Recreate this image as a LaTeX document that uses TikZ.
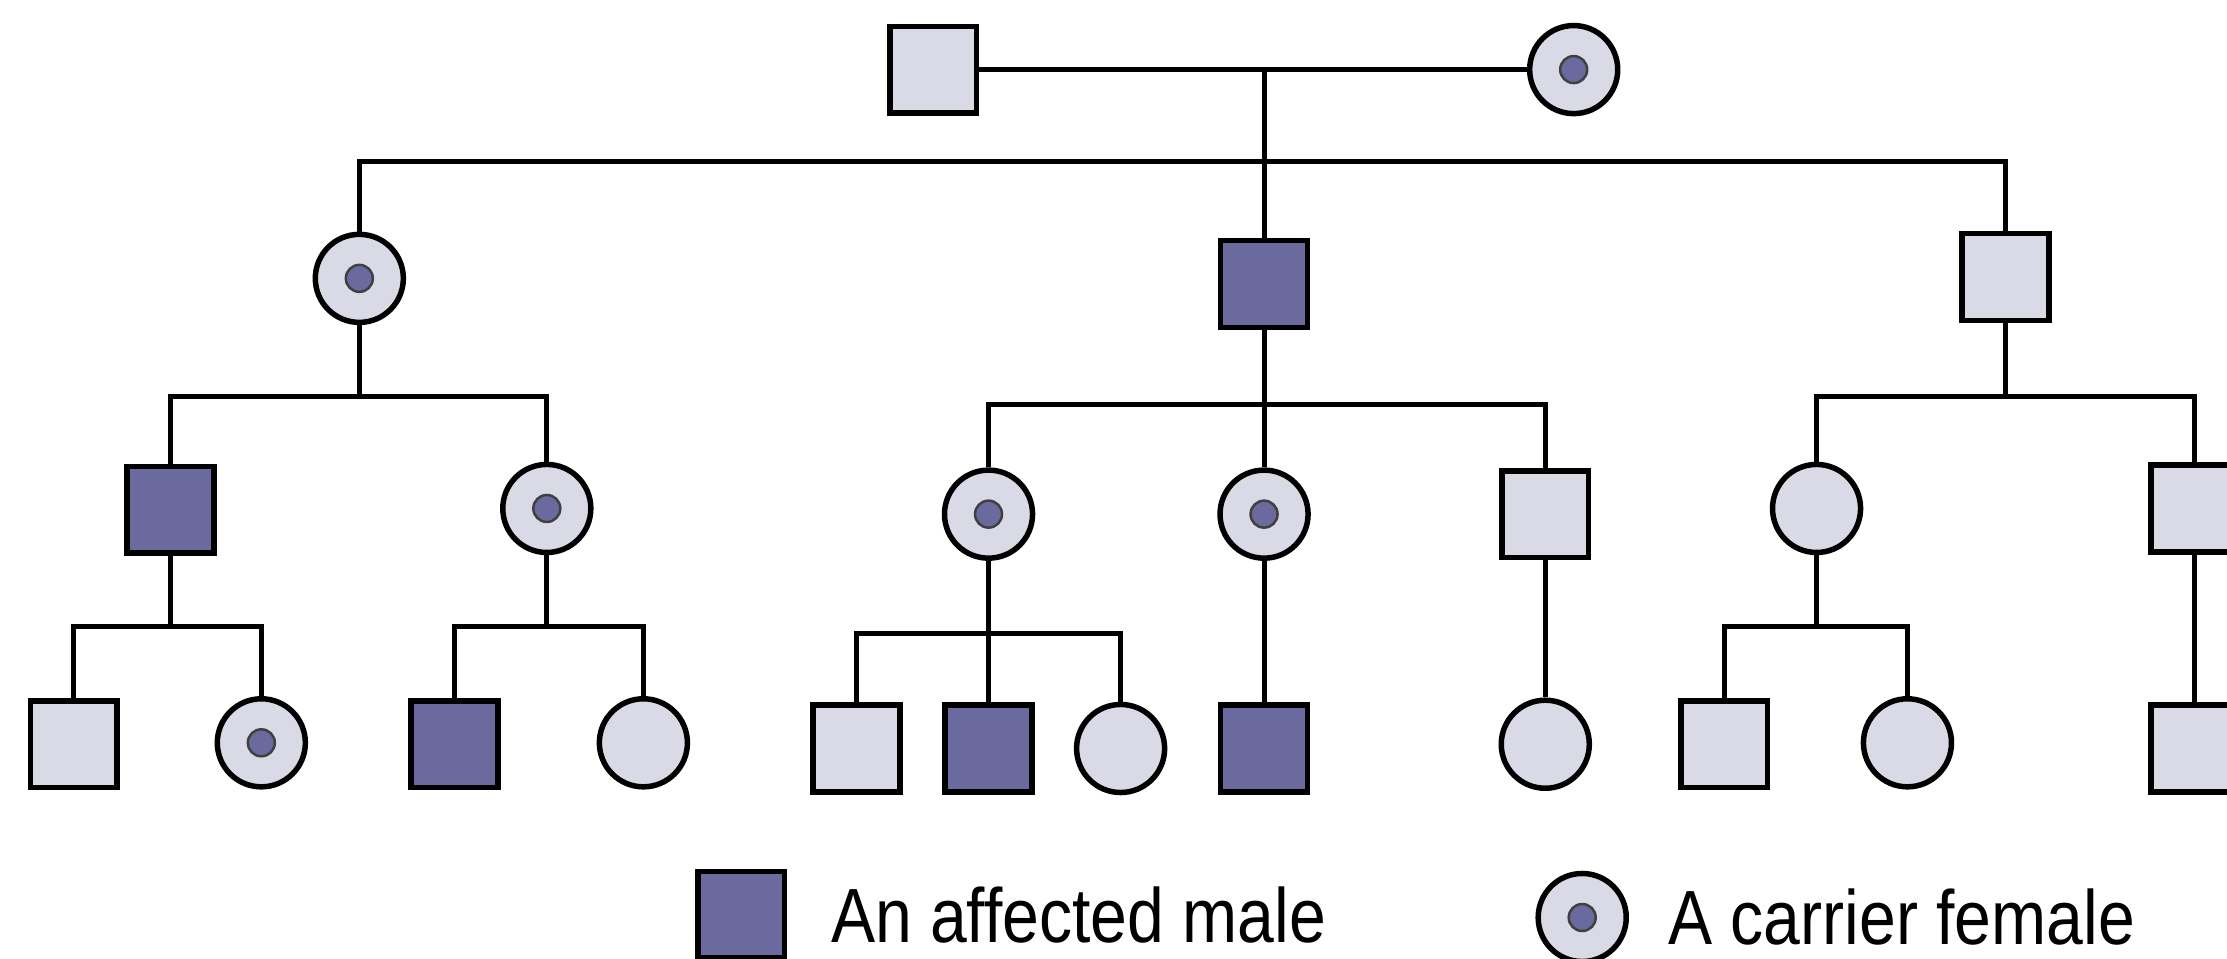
\documentclass[tikz,border=0pt]{standalone}
\usepackage{fontspec}
\setmainfont{Liberation Sans}
\newfontfamily\legendfont{Liberation Sans}[FakeStretch=0.86]
\usepackage{xcolor}
\usepackage{tikz}
\usetikzlibrary{
    positioning
}
\definecolor{unaffectedfill}{HTML}{DADAE6}
\definecolor{affectedfill}{HTML}{6A6A9E}

\begin{document}
\begin{tikzpicture}[
        male/.style={rectangle, draw=black, line width=1.1pt, fill=unaffectedfill, minimum size=0.61cm, inner sep=0pt},
        female/.style={circle, draw=black, line width=1.1pt, fill=unaffectedfill, minimum size=0.62cm, inner sep=0pt},
        affected_male/.style={male, fill=affectedfill},
        carrier_female/.style={female, path picture={\filldraw[fill=affectedfill, draw=black!75, line width=0.5pt] (path picture bounding box.center) circle (0.095cm);}},
        link/.style={line width=1pt, draw=black},
        legend_label/.style={inner sep=0pt, font=\legendfont\fontsize{15.4}{18}\selectfont}
    ]

        % Canvas
        \fill[white] (0,0) rectangle (15.68,6.75);
        \useasboundingbox (0,0) rectangle (15.68,6.75);

        % Generation 1
        \node[male] (gp_male) at (6.57,6.26) {};
        \node[carrier_female] (gp_female) at (11.08,6.26) {};
        \coordinate (gp_union) at (8.90,6.26);
        \coordinate (sib_bar1) at (8.90,5.61);

        % Generation 2
        \node[carrier_female] (gen2_a) at (2.53,4.79) {};
        \node[affected_male] (gen2_b) at (8.90,4.75) {};
        \node[male] (gen2_c) at (14.12,4.80) {};
        \coordinate (sib_bar2a) at (2.53,3.96);
        \coordinate (sib_bar2b) at (8.90,3.90);
        \coordinate (sib_bar2c) at (14.12,3.96);

        % Generation 3
        \node[affected_male] (gen3_a) at (1.20,3.16) {};
        \node[carrier_female] (gen3_b) at (3.85,3.17) {};
        \node[carrier_female] (gen3_c) at (6.96,3.13) {};
        \node[carrier_female] (gen3_d) at (8.90,3.13) {};
        \node[male] (gen3_e) at (10.88,3.13) {};
        \node[female] (gen3_f) at (12.79,3.17) {};
        \node[male] (gen3_g) at (15.45,3.17) {};
        \coordinate (sib_bar3a) at (1.20,2.34);
        \coordinate (sib_bar3b) at (3.85,2.34);
        \coordinate (sib_bar3c) at (6.96,2.29);
        \coordinate (sib_bar3d) at (12.79,2.34);

        % Generation 4
        \node[male] (gen4_a) at (0.52,1.51) {};
        \node[carrier_female] (gen4_b) at (1.84,1.52) {};
        \node[affected_male] (gen4_c) at (3.20,1.51) {};
        \node[female] (gen4_d) at (4.53,1.52) {};
        \node[male] (gen4_e) at (6.03,1.48) {};
        \node[affected_male] (gen4_f) at (6.96,1.48) {};
        \node[female] (gen4_g) at (7.89,1.48) {};
        \node[affected_male] (gen4_h) at (8.90,1.48) {};
        \node[female] (gen4_i) at (10.88,1.51) {};
        \node[male] (gen4_j) at (12.14,1.51) {};
        \node[female] (gen4_k) at (13.43,1.52) {};
        \node[male] (gen4_l) at (15.45,1.48) {};

        % Legend
        \node[affected_male] (key_affected) at (5.22,0.31) {};
        \node[legend_label, right=0.3cm of key_affected] (label_affected) {An affected male};
        \node[carrier_female] (key_carrier) at (11.14,0.29) {};
        \node[legend_label, right=0.27cm of key_carrier] (label_carrier) {A carrier female};

        % Lines of descent
        \draw[link] (gp_male) -- (gp_female);
        \draw[link] (gp_union) -- (sib_bar1);
        \draw[link] (gen2_a.north) |- (sib_bar1) -| (gen2_c.north);
        \draw[link] (sib_bar1) -- (gen2_b.north);

        \draw[link] (gen2_a) -- (sib_bar2a);
        \draw[link] (gen3_a.north) |- (sib_bar2a) -| (gen3_b.north);
        \draw[link] (gen2_b) -- (gen3_d);
        \draw[link] (gen3_c.north) |- (sib_bar2b) -| (gen3_e.north);
        \draw[link] (gen2_c) -- (sib_bar2c);
        \draw[link] (gen3_f.north) |- (sib_bar2c) -| (gen3_g.north);

        \draw[link] (gen3_a) -- (sib_bar3a);
        \draw[link] (gen4_a.north) |- (sib_bar3a) -| (gen4_b.north);
        \draw[link] (gen3_b) -- (sib_bar3b);
        \draw[link] (gen4_c.north) |- (sib_bar3b) -| (gen4_d.north);
        \draw[link] (gen3_c) -- (gen4_f);
        \draw[link] (gen4_e.north) |- (sib_bar3c) -| (gen4_g.north);
        \draw[link] (gen3_d) -- (gen4_h);
        \draw[link] (gen3_e) -- (gen4_i);
        \draw[link] (gen3_f) -- (sib_bar3d);
        \draw[link] (gen4_j.north) |- (sib_bar3d) -| (gen4_k.north);
        \draw[link] (gen3_g) -- (gen4_l);

    \end{tikzpicture}
\end{document}
